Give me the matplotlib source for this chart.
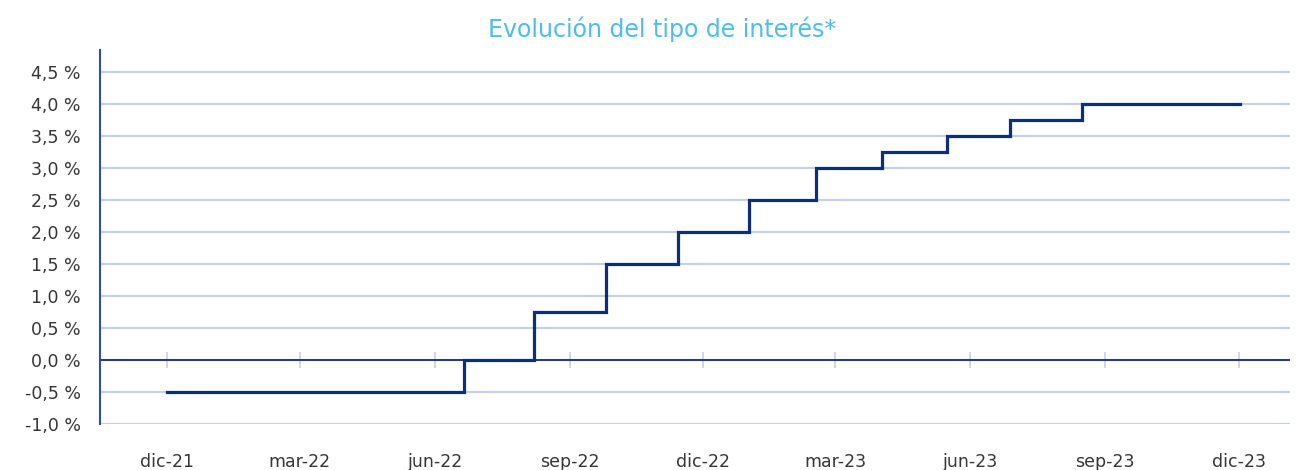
import matplotlib
matplotlib.use("Agg")
import matplotlib.pyplot as plt
import matplotlib.dates as mdates
from matplotlib.ticker import FuncFormatter, FixedLocator
import datetime as dt

# ---- data ----
step_dates = ["2021-12-01", "2022-06-21", "2022-08-08", "2022-09-26", "2022-11-14",
              "2023-01-01", "2023-02-16", "2023-04-02", "2023-05-16", "2023-06-28",
              "2023-08-16", "2023-12-02"]
rates = [-0.50, 0.00, 0.75, 1.50, 2.00, 2.50, 3.00, 3.25, 3.50, 3.75, 4.00, 4.00]
tick_dates = ["2021-12-01", "2022-03-01", "2022-06-01", "2022-09-01", "2022-12-01",
              "2023-03-01", "2023-06-01", "2023-09-01", "2023-12-01"]
tick_labels = ["dic-21", "mar-22", "jun-22", "sep-22", "dic-22",
               "mar-23", "jun-23", "sep-23", "dic-23"]
y_ticks = [-1.0, -0.5, 0.0, 0.5, 1.0, 1.5, 2.0, 2.5, 3.0, 3.5, 4.0, 4.5]
title = "Evolución del tipo de interés*"

to_d = lambda s: dt.datetime.strptime(s, "%Y-%m-%d")
xd = [to_d(s) for s in step_dates]
xt = [mdates.date2num(to_d(s)) for s in tick_dates]

plt.rcParams['font.family'] = ['DejaVu Sans']

fig = plt.figure(figsize=(12.97, 4.70), dpi=100)
ax = fig.add_axes([100/1297, 46/470, 1190/1297, 374/470])

grid_c = "#C6D0E5"
ax.set_ylim(-1.0, 4.84)
ax.set_xlim(mdates.date2num(to_d("2021-10-16")), mdates.date2num(to_d("2024-01-05")))

for v in y_ticks:
    if v != 0:
        ax.axhline(v, color=grid_c, lw=1.5, zorder=1)
ax.axhline(0, color="#0D2A7A", lw=1.3, zorder=2)

ax.plot(xd, rates, drawstyle="steps-post", color="#0B2D82", lw=2.3, zorder=3,
        solid_joinstyle="miter")

for s in ["top", "right"]:
    ax.spines[s].set_visible(False)
ax.spines["left"].set_color("#2F4E9E")
ax.spines["left"].set_linewidth(1.5)
ax.spines["bottom"].set_visible(False)

ax.yaxis.set_major_locator(FixedLocator(y_ticks))
ax.yaxis.set_major_formatter(FuncFormatter(lambda v, p: f"{v:.1f}".replace(".", ",") + " %"))
ax.tick_params(axis="y", length=0, pad=14, labelsize=12.5, labelcolor="#363636")

# x ticks crossing the zero line
ax.spines["bottom"].set_position(("data", 0))
ax.xaxis.set_major_locator(FixedLocator(xt))
ax.set_xticklabels(tick_labels)
ax.tick_params(axis="x", direction="inout", length=12, width=1.2, color=grid_c,
               pad=61, labelsize=12.5, labelcolor="#363636")

fig.text(662/1297, 1 - 29/470, title, ha="center", va="center",
         fontsize=17, color="#4DBDED")

fig.savefig("out.png", dpi=100, facecolor="white")
